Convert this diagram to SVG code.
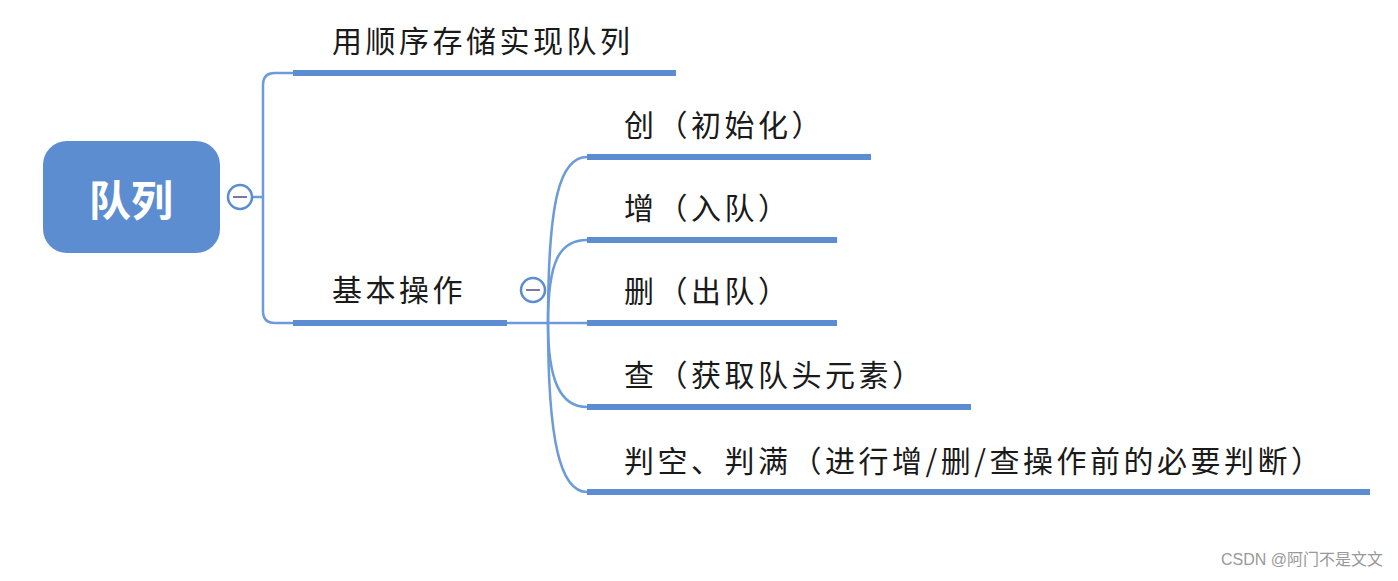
<svg xmlns="http://www.w3.org/2000/svg" width="1398" height="581" viewBox="0 0 1398 581">
<style>
.t{font-family:"Noto Sans CJK SC","Liberation Sans",sans-serif;font-size:30px;letter-spacing:3.5px;fill:#1a1a1a}
.u{stroke:#5b8dd0;stroke-width:6;fill:none}
.c{stroke:#6b9bd8;stroke-width:2.5;fill:none}
.k{fill:#fff;stroke:#5b8dd0;stroke-width:2.5}
.m{stroke:#7a7aa8;stroke-width:2}
</style>
<rect width="1398" height="581" fill="#fff"/>
<g id="connectors">
<path class="c" d="M252,197 H263"/>
<path class="c" d="M293,73 H275 Q263,73 263,85 V311 Q263,323 275,323 H293"/>
<path class="c" d="M507,323 H587"/>
<path class="c" d="M548,323 C548,200 560,157 587,157"/>
<path class="c" d="M548,323 C548,260 560,240 587,240"/>
<path class="c" d="M548,323 C548,380 560,407 587,407"/>
<path class="c" d="M548,323 C548,440 560,492 587,492"/>
</g>
<g id="root">
<rect x="43" y="141" width="177" height="112" rx="24" fill="#5b8dd0"/>
<text x="131" y="216" text-anchor="middle" font-family="Noto Sans CJK SC,sans-serif" font-weight="bold" font-size="42" fill="#fff">队列</text>
<circle class="k" cx="240" cy="197" r="12"/>
<line class="m" x1="233" y1="197" x2="247" y2="197"/>
</g>
<g id="n1">
<text class="t" x="332" y="52">用顺序存储实现队列</text>
<line class="u" x1="293" y1="73" x2="676" y2="73"/>
</g>
<g id="n2">
<text class="t" x="332" y="301">基本操作</text>
<line class="u" x1="293" y1="323" x2="507" y2="323"/>
<circle class="k" cx="533" cy="290" r="12"/>
<line class="m" x1="526" y1="290" x2="540" y2="290"/>
</g>
<g id="c1">
<text class="t" x="624" y="136">创（初始化）</text>
<line class="u" x1="587" y1="157" x2="871" y2="157"/>
</g>
<g id="c2">
<text class="t" x="624" y="219">增（入队）</text>
<line class="u" x1="587" y1="240" x2="837" y2="240"/>
</g>
<g id="c3">
<text class="t" x="624" y="302">删（出队）</text>
<line class="u" x1="587" y1="323" x2="837" y2="323"/>
</g>
<g id="c4">
<text class="t" x="624" y="386">查（获取队头元素）</text>
<line class="u" x1="587" y1="407" x2="971" y2="407"/>
</g>
<g id="c5">
<text class="t" x="624" y="472">判空、判满（进行增/删/查操作前的必要判断）</text>
<line class="u" x1="587" y1="492" x2="1370" y2="492"/>
</g>
<text x="1383" y="565" text-anchor="end" font-family="Liberation Sans,Noto Sans CJK SC,sans-serif" font-size="16" fill="#999">CSDN @阿门不是文文</text>
</svg>
